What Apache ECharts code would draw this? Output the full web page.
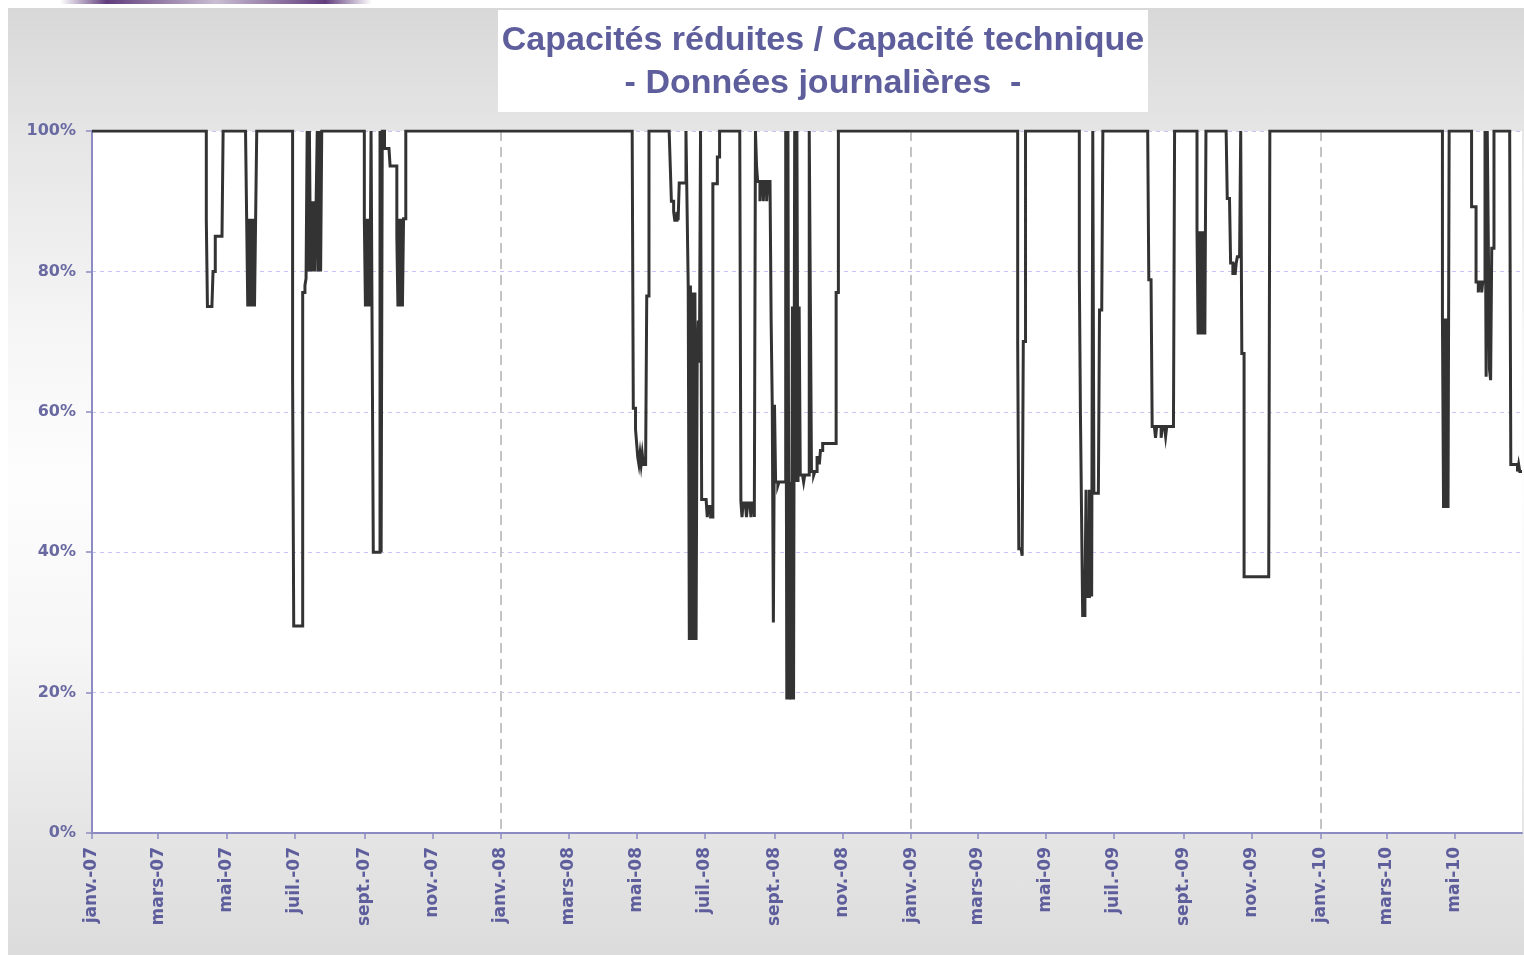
<!DOCTYPE html>
<html>
<head>
<meta charset="utf-8">
<script src="https://cdn.jsdelivr.net/npm/echarts@6/dist/echarts.min.js"></script>
<style>
html,body{margin:0;padding:0;background:#fff;}
#wrap{position:relative;width:1524px;height:955px;overflow:hidden;background:#fff;}
#bg{position:absolute;left:8px;top:8px;width:1516px;height:947px;
 background:linear-gradient(to bottom,#d8d8d8 0%,#e6e6e6 14%,#f6f6f6 35%,#fdfdfd 50%,#f6f6f6 68%,#e4e4e4 88%,#dcdcdc 100%);}
#chart{position:absolute;left:0;top:0;width:1524px;height:955px;}
</style>
</head>
<body>
<div id="wrap"><div id="bg"></div><div id="chart"></div></div>
<script>
// ---- Data ----
const startDate = [2007, 0, 1];
const endDate = [2010, 5, 30];
// Dates where the daily ratio changes, and the value (%) from that day on
const changeDates = [
 '2007-04-13','2007-04-14','2007-04-19','2007-04-21','2007-04-28',
 '2007-05-19','2007-05-20','2007-05-21','2007-05-22','2007-05-23','2007-05-24','2007-05-25','2007-05-26','2007-05-27','2007-05-28',
 '2007-06-29','2007-06-30','2007-07-08','2007-07-10','2007-07-11','2007-07-12','2007-07-13','2007-07-14','2007-07-15','2007-07-16',
 '2007-07-17','2007-07-18','2007-07-19','2007-07-20','2007-07-21','2007-07-22','2007-07-23','2007-07-24','2007-07-25',
 '2007-09-01','2007-09-02','2007-09-03','2007-09-04','2007-09-05','2007-09-06','2007-09-07','2007-09-08','2007-09-09','2007-09-15',
 '2007-09-16','2007-09-17','2007-09-19','2007-09-24','2007-09-30','2007-10-01','2007-10-02','2007-10-03','2007-10-04','2007-10-05',
 '2007-10-06','2007-10-08',
 '2008-04-28','2008-04-30','2008-05-01','2008-05-02','2008-05-03','2008-05-04','2008-05-05','2008-05-06','2008-05-07','2008-05-10','2008-05-12',
 '2008-05-31','2008-06-01','2008-06-03','2008-06-04','2008-06-06','2008-06-07','2008-06-08','2008-06-14','2008-06-15','2008-06-16',
 '2008-06-17','2008-06-18','2008-06-19','2008-06-20','2008-06-21','2008-06-22','2008-06-23','2008-06-24','2008-06-25','2008-06-26',
 '2008-06-27','2008-06-28','2008-07-03','2008-07-04','2008-07-06','2008-07-08','2008-07-12','2008-07-14',
 '2008-08-02','2008-08-03','2008-08-04','2008-08-07','2008-08-08','2008-08-11','2008-08-12','2008-08-14','2008-08-15','2008-08-16',
 '2008-08-17','2008-08-19','2008-08-20','2008-08-22','2008-08-23','2008-08-25','2008-08-26','2008-08-29','2008-08-30','2008-08-31',
 '2008-09-01','2008-09-02','2008-09-04','2008-09-05','2008-09-11','2008-09-12','2008-09-13','2008-09-14','2008-09-15','2008-09-16',
 '2008-09-17','2008-09-18','2008-09-19','2008-09-20','2008-09-21','2008-09-22','2008-09-23','2008-09-24','2008-09-27','2008-09-28',
 '2008-10-02','2008-10-03','2008-10-04','2008-10-06','2008-10-07','2008-10-09','2008-10-11','2008-10-12','2008-10-14','2008-10-26','2008-10-28',
 '2009-04-06','2009-04-07','2009-04-10','2009-04-11','2009-04-13',
 '2009-05-31','2009-06-01','2009-06-02','2009-06-03','2009-06-05','2009-06-06','2009-06-07','2009-06-09','2009-06-10','2009-06-11',
 '2009-06-12','2009-06-13','2009-06-18','2009-06-21',
 '2009-08-01','2009-08-04','2009-08-07','2009-08-08','2009-08-12','2009-08-13','2009-08-16','2009-08-17','2009-08-24',
 '2009-09-13','2009-09-14','2009-09-15','2009-09-16','2009-09-17','2009-09-18','2009-09-19','2009-09-20','2009-09-21',
 '2009-10-10','2009-10-13','2009-10-15','2009-10-16','2009-10-17','2009-10-18','2009-10-19','2009-10-22','2009-10-23','2009-10-25','2009-11-17',
 '2010-04-20','2010-04-21','2010-04-22','2010-04-23','2010-04-24','2010-04-25','2010-04-26',
 '2010-05-16','2010-05-20','2010-05-22','2010-05-23','2010-05-25','2010-05-26','2010-05-28','2010-05-29','2010-05-30','2010-05-31',
 '2010-06-01','2010-06-02','2010-06-03','2010-06-05',
 '2010-06-20','2010-06-26','2010-06-27','2010-06-28'
];
const changeValues = [
 87.4,75,80,85,100,
 87.5,75,87.5,75,87.5,75,87.5,75,87.5,100,
 64.7,29.5,77,78,79,100,80,100,80,90,
 80,90,80,90,100,80,100,80,100,
 87.5,75,87.5,75,87.5,75,100,70,40,100,
 40,100,97.5,95,85,75,87.5,75,87.5,75,
 87.5,100,
 60.5,57.5,55.5,53.5,52.5,54,52.5,54,52.5,76.5,100,
 95,90,88.5,87.3,88.5,87.3,92.6,100,89,78,
 27.5,78,27.5,77,27.5,77,27.5,67,73,67,
 100,47.5,45,46.5,45,92.5,96.3,100,
 47.3,45,47,45,47,45,47,45,100,95,
 92.8,90,92.8,90,92.8,90,92.8,73,61,30,
 61,50,49.5,50,100,19,100,19,50,19,
 75,19,100,50,100,50,75,51,50,51,
 100,76,51.5,51,51.5,53.5,52.5,54.5,55.5,77,100,
 70,40.5,39.5,70,100,
 79.7,59.5,45.3,31,33.7,48.9,33.7,48.9,41.5,33.7,
 100,48.4,74.5,100,
 78.8,57.9,56.3,57.9,56.3,57.9,56.5,57.9,100,
 85.7,71,85.7,71,85.7,71,85.7,71,100,
 90.4,81.2,79.5,81.2,79.5,81.2,82.1,100,68.3,36.5,100,
 73.3,46.3,73.3,46.3,73.3,46.3,100,
 89.2,78.5,77,78.5,77,78.5,100,65,100,83.3,
 66,64.5,83.3,100,
 52.5,51.5,52.5,51.5
];
const initialValue = 100;
const monthNames = ['janv.','févr.','mars','avr.','mai','juin','juil.','août','sept.','oct.','nov.','déc.'];
const yTicks = [0, 20, 40, 60, 80, 100];
const titleLines = ['Capacités réduites / Capacité technique', '- Données journalières  -'];

// ---- Build daily table from the change points ----
function pad(n){ return n < 10 ? '0' + n : '' + n; }
const days = [], values = [];
{
  let t = Date.UTC(startDate[0], startDate[1], startDate[2]);
  const tEnd = Date.UTC(endDate[0], endDate[1], endDate[2]);
  let ci = 0, cur = initialValue;
  for (; t <= tEnd; t += 86400000) {
    const d = new Date(t);
    const s = d.getUTCFullYear() + '-' + pad(d.getUTCMonth() + 1) + '-' + pad(d.getUTCDate());
    while (ci < changeDates.length && changeDates[ci] <= s) { cur = changeValues[ci]; ci++; }
    days.push(s); values.push(cur);
  }
}

const isLabelDay = (i, v) => v.slice(8) === '01' && (+v.slice(5, 7)) % 2 === 1;
const isYearStart = (i, v) => i > 0 && v.slice(5) === '01-01';
const axisColor = '#8c8cc2';
const textColor = '#5e5e9c';
const titleFont = {fill: textColor, fontFamily: '"Liberation Sans", Arial, sans-serif', fontWeight: 'bold', fontSize: 34,
  align: 'center', verticalAlign: 'middle'};

const chart = echarts.init(document.getElementById('chart'), null, {renderer: 'canvas'});
chart.setOption({
  animation: false,
  backgroundColor: 'transparent',
  graphic: [
    {type: 'rect', silent: true, z: -10, shape: {x: 60, y: 0, width: 312, height: 4},
     style: {fill: new echarts.graphic.LinearGradient(0, 0, 1, 0, [
       {offset: 0, color: 'rgba(80,40,110,0)'}, {offset: 0.15, color: 'rgba(80,40,110,0.9)'},
       {offset: 0.5, color: 'rgba(80,40,110,0.3)'}, {offset: 0.85, color: 'rgba(80,40,110,0.9)'},
       {offset: 1, color: 'rgba(80,40,110,0)'}])}},
    {type: 'rect', silent: true, z: -5, shape: {x: 498, y: 10, width: 650, height: 102}, style: {fill: '#ffffff'}},
    {type: 'text', silent: true, x: 823, y: 41, style: Object.assign({text: titleLines[0]}, titleFont)},
    {type: 'text', silent: true, x: 823, y: 84, style: Object.assign({text: titleLines[1]}, titleFont)}
  ],
  grid: {left: 92, right: 2, top: 131, bottom: 122, show: true, backgroundColor: '#ffffff', borderWidth: 0, containLabel: false},
  xAxis: {
    type: 'category', data: days, boundaryGap: false,
    axisLine: {show: true, lineStyle: {color: axisColor, width: 2}},
    axisTick: {show: true, interval: isLabelDay, length: 6, lineStyle: {color: axisColor, width: 1.5}},
    axisLabel: {show: true, interval: isLabelDay, rotate: 90, margin: 14,
      formatter: v => monthNames[+v.slice(5, 7) - 1] + '-' + v.slice(2, 4),
      color: textColor, fontFamily: '"DejaVu Sans", Verdana, sans-serif', fontWeight: 'bold', fontSize: 17},
    splitLine: {show: true, interval: isYearStart, lineStyle: {color: '#c4c4c4', width: 2, type: [10, 6]}}
  },
  yAxis: {
    type: 'value', min: yTicks[0], max: yTicks[yTicks.length - 1], interval: yTicks[1] - yTicks[0],
    axisLine: {show: true, lineStyle: {color: axisColor, width: 2}},
    axisTick: {show: true, length: 6, lineStyle: {color: axisColor, width: 1.5}},
    axisLabel: {formatter: '{value}%', margin: 16, color: '#6a6aa2',
      fontFamily: '"DejaVu Sans", Verdana, sans-serif', fontWeight: 'bold', fontSize: 16},
    splitLine: {show: true, lineStyle: {color: '#c6c6f4', width: 1, type: [4, 4]}}
  },
  series: [{
    type: 'line', data: values, step: 'end', symbol: 'none', showSymbol: false,
    lineStyle: {color: '#333333', width: 3, join: 'miter'}, itemStyle: {color: '#333333'},
    silent: true
  }]
});
</script>
</body>
</html>
